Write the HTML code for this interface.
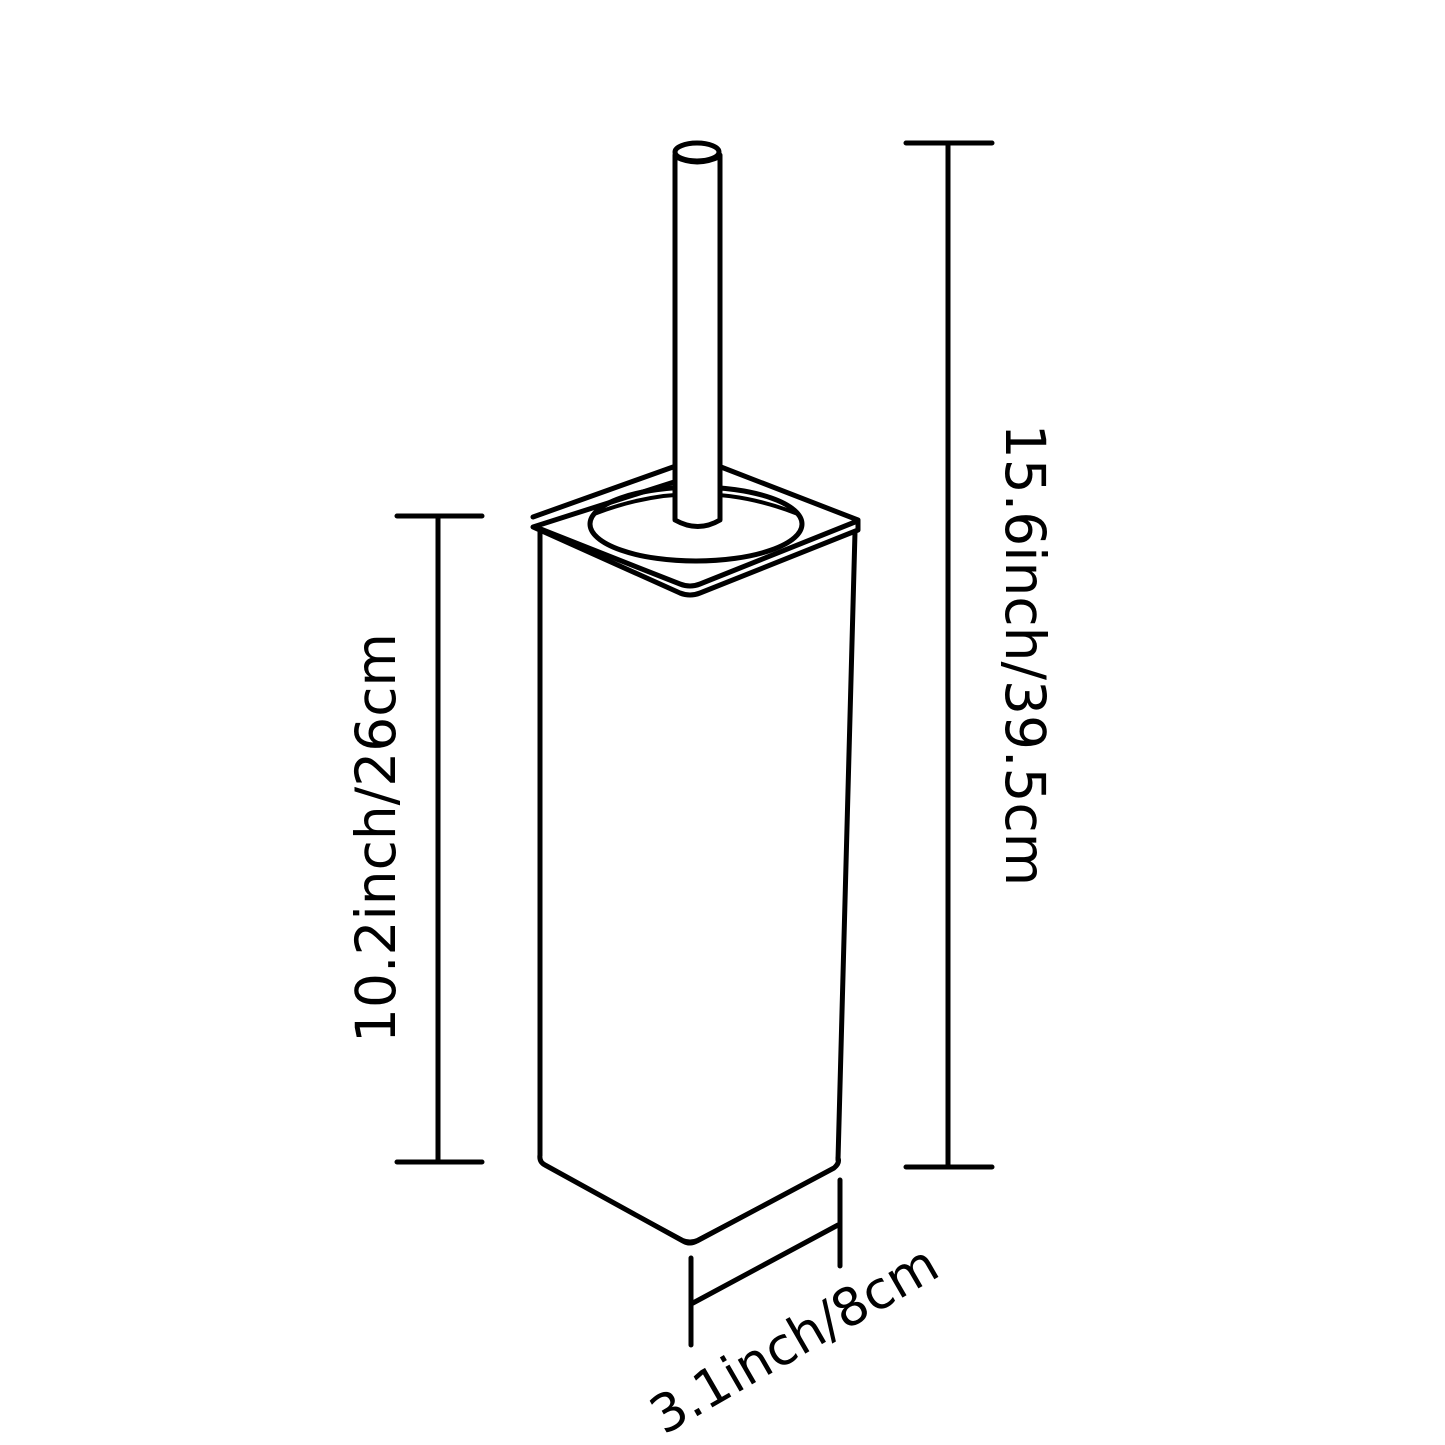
<!DOCTYPE html>
<html><head><style>body{margin:0;background:#fff}svg{display:block}</style></head>
<body>
<svg width="1445" height="1445" viewBox="0 0 1445 1445" xmlns="http://www.w3.org/2000/svg">
<g fill="none" stroke="#000" stroke-width="5" stroke-linejoin="round" stroke-linecap="round">
<!-- lid -->
<path d="M533 517 L673 467 M721 467 L858 520 L858 530 L700 593 Q690 597 680 593 L533 527 Z"/>
<path d="M538 528 L680 584 Q690 588 700 584 L855 522"/>
<ellipse cx="696" cy="524" rx="106" ry="37"/>
<path d="M594 514 Q697 474 798 514" stroke-width="4"/>
<!-- stem -->
<path d="M675 155 L675 520 Q698 533 720 520 L720 155 Z" fill="#fff"/>
<ellipse cx="697" cy="152" rx="22" ry="9" fill="#fff"/>
<path d="M675 157 Q697 168 720 157" stroke-width="4"/>
<!-- body -->
<path d="M540 532 L540 1155"/>
<path d="M855 532 L838 1160"/>
<path d="M540 1155 Q539 1162 545 1165 L683 1241 Q690 1245 697 1241 L834 1168 Q840 1163 838 1158"/>
<path d="M542 1163 L683 1239 Q690 1242 697 1239 L836 1166" stroke-width="2"/>
<!-- dimensions -->
<path d="M397 516 H482 M438 516 V1162 M397 1162 H482"/>
<path d="M906 143 H992 M948 143 V1167 M906 1167 H992"/>
<path d="M691 1258 V1345 M840 1180 V1266 M693 1303 L838 1225"/>
</g>
<g font-family="'DejaVu Sans','Liberation Sans',sans-serif" font-size="55" fill="#000" text-anchor="middle">
<text transform="translate(395,838) rotate(-90)">10.2inch/26cm</text>
<text transform="translate(1006,655) rotate(90)">15.6inch/39.5cm</text>
<text transform="translate(803,1355) rotate(-30)" font-size="52">3.1inch/8cm</text>
</g>
</svg>
</body></html>
